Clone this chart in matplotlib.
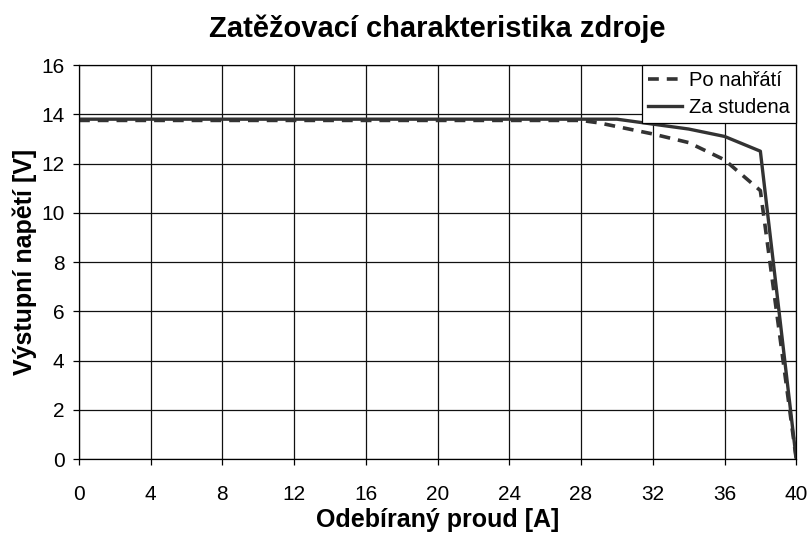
import numpy as np
import matplotlib.pyplot as plt

plt.rcParams["font.family"] = ["Liberation Sans", "DejaVu Sans"]

# data
x_hot = [0, 28, 29, 32, 34, 36, 38, 40]
u_hot = [13.75, 13.75, 13.65, 13.2, 12.85, 12.15, 10.9, 0.0]
x_cold = [0, 28, 30, 34, 36, 38, 40]
u_cold = [13.8, 13.8, 13.8, 13.4, 13.1, 12.5, 0.0]

fig = plt.figure(figsize=(8.1, 5.35), dpi=100)
ax = fig.add_axes([0.0975, 0.142, 0.8855, 0.7365])

ax.plot(x_hot, u_hot, color='#333333', linestyle=(0, (3, 2.2)), lw=2.6, label='Po nahřátí')
ax.plot(x_cold, u_cold, color='#333333', linestyle='-', lw=2.4, label='Za studena')

ax.set_xlim(0, 40)
ax.set_ylim(0, 16)
ax.set_xticks(np.arange(0, 41, 4))
ax.set_yticks(np.arange(0, 17, 2))
ax.grid(True, color='#111111', lw=0.9)
ax.set_axisbelow(True)
for s in ax.spines.values():
    s.set_color('black')
    s.set_linewidth(0.9)
ax.tick_params(direction='out', length=4.5, width=0.9, labelsize=15)
ax.tick_params(axis='x', pad=14)
ax.tick_params(axis='y', pad=6)

ax.set_xlabel('Odebíraný proud [A]', fontsize=18, fontweight='bold', labelpad=3)
ax.set_ylabel('Výstupní napětí [V]', fontsize=18, fontweight='bold', labelpad=3)
ax.set_title('Zatěžovací charakteristika zdroje', fontsize=21, fontweight='bold', pad=20)

leg = ax.legend(loc='upper right', fontsize=14.5, frameon=True, fancybox=False,
                edgecolor='black', framealpha=1, borderpad=0.3, handlelength=1.7,
                handletextpad=0.35, labelspacing=0.4, borderaxespad=0.0)
leg.get_frame().set_linewidth(0.9)

fig.savefig('out.png', dpi=100)
